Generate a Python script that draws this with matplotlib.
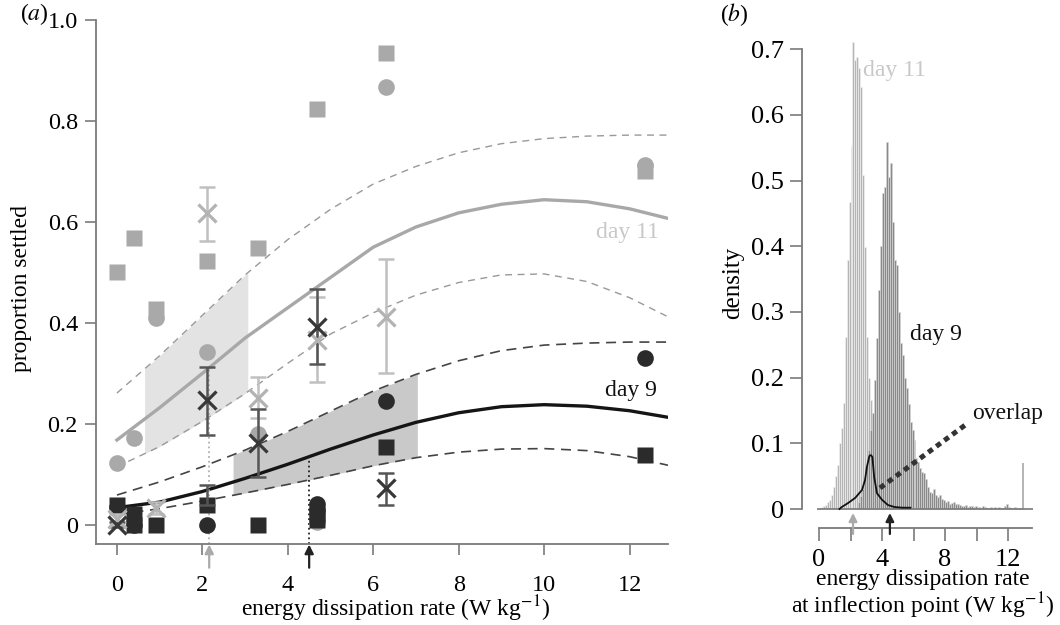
import numpy as np
import matplotlib
matplotlib.use('Agg')
import matplotlib.pyplot as plt

plt.rcParams['font.family'] = ['Liberation Serif', 'DejaVu Serif']
plt.rcParams['mathtext.fontset'] = 'stix'

# ---- panel (a): proportion settled, day 11 (light) and day 9 (dark)
d11_sq_x = [0, 0.40, 0.91, 2.1, 3.3, 4.69, 6.3, 12.37]
d11_sq_y = [0.50, 0.568, 0.428, 0.523, 0.548, 0.823, 0.935, 0.70]
d11_ci_x = [0, 0.40, 0.91, 2.1, 3.3, 4.69, 6.3, 12.37]
d11_ci_y = [0.122, 0.172, 0.41, 0.343, 0.18, 0.005, 0.868, 0.712]
d9_sq_x = [0, 0.40, 0.40, 0.91, 2.1, 3.3, 4.69, 4.69, 6.3, 12.37]
d9_sq_y = [0.04, 0.022, 0.0, 0.0, 0.04, 0.0, 0.022, 0.01, 0.155, 0.139]
d9_ci_x = [0, 0.40, 2.1, 4.69, 4.69, 6.3, 12.37]
d9_ci_y = [0.036, 0.0, 0.0, 0.042, 0.03, 0.246, 0.33]

# means and error bars
d11_mx = [0, 0.91, 2.1, 3.3, 4.69, 6.3]
d11_m = [0.012, 0.034, 0.618, 0.251, 0.366, 0.412]
d11_lo = [0.0, 0.022, 0.562, 0.212, 0.282, 0.30]
d11_hi = [0.022, 0.046, 0.67, 0.293, 0.452, 0.527]
d9_mx = [0, 2.1, 3.3, 4.69, 6.3]
d9_m = [0.0, 0.248, 0.162, 0.392, 0.073]
d9_lo = [-0.005, 0.178, 0.095, 0.319, 0.04]
d9_hi = [0.005, 0.313, 0.229, 0.467, 0.103]
extra_x = [2.1]
extra_m = [0.06]
extra_lo = [0.04]
extra_hi = [0.079]

# fitted curves with 95% bands
curve_x = [0, 1, 2, 3, 4, 5, 6, 7, 8, 9, 10, 11, 12, 12.9]
d11_fit = [0.168, 0.232, 0.30, 0.37, 0.43, 0.49, 0.55, 0.59, 0.618, 0.635, 0.644, 0.640, 0.626, 0.607]
d11_up = [0.261, 0.335, 0.415, 0.495, 0.565, 0.625, 0.675, 0.71, 0.737, 0.755, 0.765, 0.77, 0.772, 0.772]
d11_low = [0.115, 0.155, 0.205, 0.26, 0.32, 0.378, 0.42, 0.455, 0.48, 0.495, 0.497, 0.482, 0.45, 0.412]
d9_fit = [0.034, 0.045, 0.066, 0.092, 0.12, 0.15, 0.178, 0.203, 0.222, 0.234, 0.238, 0.235, 0.226, 0.213]
d9_up = [0.059, 0.085, 0.115, 0.148, 0.185, 0.225, 0.265, 0.298, 0.325, 0.345, 0.356, 0.36, 0.362, 0.362]
d9_low = [0.02, 0.032, 0.047, 0.063, 0.08, 0.098, 0.117, 0.133, 0.144, 0.15, 0.151, 0.147, 0.135, 0.118]

infl_d11 = 2.16
infl_d9 = 4.5
band_d11 = (0.61, 3.07)
band_d9 = (2.69, 7.07)

# ---- panel (b): posterior density of inflection point
bin_w = 0.125
d11_dens = [0.002, 0.003, 0.004, 0.006, 0.01, 0.014, 0.022, 0.034, 0.05, 0.067,
            0.1, 0.123, 0.161, 0.262, 0.379, 0.467, 0.552, 0.711, 0.683, 0.688,
            0.671, 0.642, 0.508, 0.399, 0.262, 0.2, 0.166, 0.146, 0.09, 0.06,
            0.045, 0.035, 0.028, 0.022, 0.017, 0.014, 0.011, 0.009, 0.007, 0.006,
            0.005]
d11_start = 0.0
d11_edge_x = [12.94]
d11_edge_y = [0.07]
d9_dens = [0.01, 0.02, 0.03, 0.045, 0.065, 0.09, 0.12, 0.146, 0.196, 0.26, 0.333,
           0.40, 0.481, 0.49, 0.559, 0.505, 0.527, 0.437, 0.379, 0.371, 0.30,
           0.253, 0.234, 0.20, 0.184, 0.16, 0.133, 0.12, 0.105, 0.078, 0.072,
           0.062, 0.056, 0.055, 0.045, 0.034, 0.026, 0.024, 0.03, 0.021, 0.018,
           0.021, 0.016, 0.014, 0.01, 0.012, 0.008, 0.009, 0.01, 0.007, 0.008,
           0.006, 0.005, 0.004, 0.006, 0.003, 0.005, 0.004, 0.003, 0.004, 0.002,
           0.003, 0.002, 0.004, 0.003, 0.002, 0.002, 0.003, 0.002, 0.003, 0.002,
           0.003, 0.002, 0.002, 0.004, 0.008, 0.003, 0.002, 0.002, 0.003, 0.002,
           0.002, 0.002, 0.002]
d9_start = 2.5
ov_x = [1.3, 1.44, 1.84, 2.3, 2.73, 2.92, 3.04, 3.2, 3.3, 3.39, 3.5, 3.68, 4.0, 4.38, 4.8, 5.3, 5.8]
ov_y = [0.0, 0.003, 0.009, 0.017, 0.029, 0.044, 0.064, 0.081, 0.082, 0.079, 0.049, 0.024, 0.014, 0.006, 0.003, 0.002, 0.002]

LIGHT = '#a9a9a9'
DARK = '#2b2b2b'
SPINE = '#7a7a7a'

fig = plt.figure(figsize=(10.6, 6.25), dpi=100)

# ================= panel (a)
ax = fig.add_axes([96 / 1060, 81 / 625, 572 / 1060, 524 / 625])
ax.set_xlim(-0.49, 12.9)
ax.set_ylim(-0.038, 1.0)

fx = np.linspace(0, 12.9, 300)
for (lo, hi), up, low, col in [(band_d11, d11_up, d11_low, '#e3e3e3'),
                               (band_d9, d9_up, d9_low, '#c9c9c9')]:
    xx = fx[(fx >= lo) & (fx <= hi)]
    ax.fill_between(xx, np.interp(xx, curve_x, low), np.interp(xx, curve_x, up),
                    color=col, lw=0, zorder=1)

ax.plot(curve_x, d11_up, color='#999999', lw=1.0, dashes=(5, 4), zorder=2)
ax.plot(curve_x, d11_low, color='#999999', lw=1.0, dashes=(5, 4), zorder=2)
ax.plot(curve_x, d11_fit, color='#a8a8a8', lw=2.4, zorder=2)
ax.plot(curve_x, d9_up, color='#444444', lw=1.2, dashes=(6, 4), zorder=2)
ax.plot(curve_x, d9_low, color='#444444', lw=1.2, dashes=(6, 4), zorder=2)
ax.plot(curve_x, d9_fit, color='#151515', lw=2.4, zorder=2)

# inflection point guides
y11 = np.interp(infl_d11, curve_x, d11_fit)
y9 = np.interp(infl_d9, curve_x, d9_fit)
ax.plot([infl_d11, infl_d11], [-0.038, y11], color='#b0b0b0', lw=1.3, ls=':', zorder=2)
ax.plot([infl_d9, infl_d9], [-0.038, y9], color='#222222', lw=1.3, ls=':', zorder=2)
for xa, col in [(infl_d11, '#aaaaaa'), (infl_d9, '#222222')]:
    ax.annotate('', xy=(xa, -0.039), xytext=(xa, -0.085),
                arrowprops=dict(arrowstyle='-|>', color=col, lw=1.6, mutation_scale=13,
                                shrinkA=0, shrinkB=0),
                annotation_clip=False)

ax.plot(d11_sq_x, d11_sq_y, 's', color=LIGHT, ms=11, mec='none', zorder=3)
ax.plot(d11_ci_x, d11_ci_y, 'o', color=LIGHT, ms=12, mec='none', zorder=3)
ax.plot(d9_sq_x, d9_sq_y, 's', color=DARK, ms=11, mec='none', zorder=3)
ax.plot(d9_ci_x, d9_ci_y, 'o', color=DARK, ms=12, mec='none', zorder=3)

def mean_bars(xs, m, lo, hi, ecol, mcol, marker='x'):
    m = np.array(m)
    yerr = [m - np.array(lo), np.array(hi) - m]
    ax.errorbar(xs, m, yerr=yerr, fmt='none', ecolor=ecol, elinewidth=1.8,
                capsize=6, capthick=1.8, zorder=4)
    if marker:
        ax.plot(xs, m, marker, color=mcol, ms=13, mew=2.3, zorder=5)

mean_bars(extra_x, extra_m, extra_lo, extra_hi, '#555555', None, marker=None)
mean_bars(d11_mx, d11_m, d11_lo, d11_hi, '#c0c0c0', '#b3b3b3')
mean_bars(d9_mx, d9_m, d9_lo, d9_hi, '#555555', '#383838')

ax.text(12.68, 0.58, 'day 11', color='#c8c8c8', fontsize=17, ha='right', va='center')
ax.text(12.65, 0.267, 'day 9', color='#111111', fontsize=17, ha='right', va='center')

for s in ['top', 'right']:
    ax.spines[s].set_visible(False)
for s in ['left', 'bottom']:
    ax.spines[s].set_color(SPINE)
    ax.spines[s].set_linewidth(1.3)
ax.set_xticks([0, 2, 4, 6, 8, 10, 12])
ax.set_yticks([0, 0.2, 0.4, 0.6, 0.8, 1.0])
ax.set_yticklabels(['0', '0.2', '0.4', '0.6', '0.8', '1.0'])
ax.tick_params(axis='both', direction='out', length=8, width=1.2, color=SPINE, labelsize=17.5)
ax.tick_params(axis='x', pad=14)
ax.tick_params(axis='y', pad=5)

fig.text(396 / 1060, 1 - 609 / 625, r'energy dissipation rate (W kg$^{-1}$)',
         fontsize=17, ha='center', va='center')
fig.text(22 / 1060, 1 - 288 / 625, 'proportion settled', fontsize=17,
         ha='center', va='center', rotation=90)
fig.text(20 / 1060, 1 - 14 / 625, r'($\mathit{a}$)', fontsize=17, ha='left', va='center')

# ================= panel (b)
bx = fig.add_axes([802 / 1060, 97 / 625, 238 / 1060, 492 / 625])
bx.set_xlim(-1.08, 14.03)
bx.set_ylim(-0.0289, 0.72)

c11 = d11_start + bin_w * (np.arange(len(d11_dens)) + 0.5)
c9 = d9_start + bin_w * (np.arange(len(d9_dens)) + 0.5)
bx.bar(c11, d11_dens, width=bin_w, color='#b5b5b5', edgecolor='#f2f2f2', lw=0.45, zorder=2)
bx.bar(d11_edge_x, d11_edge_y, width=bin_w, color='#b5b5b5', lw=0, zorder=2)
bx.bar(c9, d9_dens, width=bin_w, color='#8a8a8a', edgecolor='#d8d8d8', lw=0.45, zorder=3)
bx.hlines(0, -0.1, 13.6, color=SPINE, lw=1.2, zorder=4)
bx.plot(ov_x, ov_y, color='#111111', lw=1.3, zorder=5)
bx.plot([3.87, 9.46], [0.032, 0.131], color='#333333', lw=3.6, dashes=(1.1, 0.9), zorder=5)

for xa, col in [(infl_d11, '#aaaaaa'), (infl_d9, '#222222')]:
    bx.annotate('', xy=(xa, -0.006), xytext=(xa, -0.038),
                arrowprops=dict(arrowstyle='-|>', color=col, lw=1.6, mutation_scale=12,
                                shrinkA=0, shrinkB=0),
                annotation_clip=False)

bx.text(2.8, 0.668, 'day 11', color='#c8c8c8', fontsize=17, ha='left', va='center')
bx.text(5.8, 0.265, 'day 9', color='#111111', fontsize=17, ha='left', va='center')
bx.text(9.7, 0.146, 'overlap', color='#111111', fontsize=17, ha='left', va='center')

for s in ['top', 'right']:
    bx.spines[s].set_visible(False)
for s in ['left', 'bottom']:
    bx.spines[s].set_color(SPINE)
    bx.spines[s].set_linewidth(1.3)
bx.spines['left'].set_bounds(0, 0.7)
bx.spines['bottom'].set_bounds(0, 13.5)
bx.set_yticks([0, 0.1, 0.2, 0.3, 0.4, 0.5, 0.6, 0.7])
bx.set_yticklabels(['0', '0.1', '0.2', '0.3', '0.4', '0.5', '0.6', '0.7'])
bx.set_xticks([0, 4, 8, 12])
bx.set_xticks([2, 6, 10], minor=True)
bx.tick_params(axis='both', which='both', direction='out', length=9, width=1.2,
               color=SPINE, labelsize=19)
bx.tick_params(axis='x', pad=6)
bx.tick_params(axis='y', pad=4)

fig.text(923 / 1060, 1 - 595 / 625,
         'energy dissipation rate\n' + r'at inflection point (W kg$^{-1}$)',
         fontsize=17, ha='center', va='center', linespacing=1.05)
fig.text(733 / 1060, 1 - 283 / 625, 'density', fontsize=18,
         ha='center', va='center', rotation=90)
fig.text(720 / 1060, 1 - 15 / 625, r'($\mathit{b}$)', fontsize=17, ha='left', va='center')

fig.savefig('out.png', dpi=100)
